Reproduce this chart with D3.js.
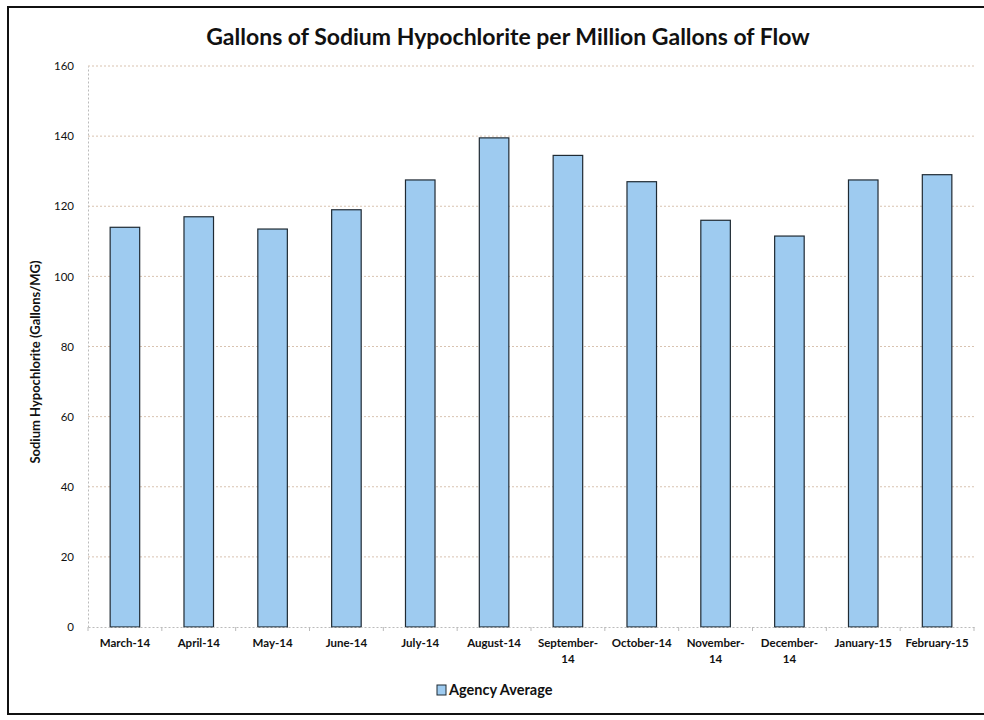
<!DOCTYPE html>
<html>
<head>
<meta charset="utf-8">
<script src="https://cdn.jsdelivr.net/npm/d3@7"></script>
<style>
  html, body { margin: 0; padding: 0; background: #fff; }
  svg { display: block; font-family: Lato, "Open Sans", sans-serif; }
</style>
</head>
<body>
<svg id="chart" width="984" height="720"></svg>
<script>
// Monthly sodium hypochlorite dosing, gallons per million gallons of flow
const months = ["March-14", "April-14", "May-14", "June-14", "July-14", "August-14",
  "September-14", "October-14", "November-14", "December-14", "January-15", "February-15"];
// category labels as laid out on the axis (line breaks after the hyphen)
const monthLabels = [["March-14"], ["April-14"], ["May-14"], ["June-14"], ["July-14"], ["August-14"],
  ["September-", "14"], ["October-14"], ["November-", "14"], ["December-", "14"], ["January-15"], ["February-15"]];
const agencyAverage = [114, 117, 113.5, 119, 127.5, 139.5, 134.5, 127, 116, 111.5, 127.5, 129];
const yTicks = [0, 20, 40, 60, 80, 100, 120, 140, 160];
const seriesName = "Agency Average";

const svg = d3.select("#chart");
const margin = { left: 88, right: 10, top: 66, bottom: 93 };
const W = 984, H = 720;
const barFill = "#9ecbf0", barStroke = "#1f2a33";

// frame around the chart
svg.append("rect").attr("x", 8).attr("y", 7).attr("width", 984).attr("height", 707)
  .attr("fill", "none").attr("stroke", "#111").attr("stroke-width", 2);

const x = d3.scaleBand().domain(months).range([margin.left, W - margin.right]).paddingInner(0.6).paddingOuter(0.3);
const y = d3.scaleLinear().domain([0, 160]).range([H - margin.bottom, margin.top]);

// horizontal gridlines
svg.append("g").selectAll("line").data(yTicks.filter(d => d > 0)).join("line")
  .attr("x1", margin.left).attr("x2", W - margin.right)
  .attr("y1", d => y(d)).attr("y2", d => y(d))
  .attr("stroke", "#d9c3b0").attr("stroke-dasharray", "2,2").attr("stroke-width", 1);

// y axis
const yAxis = svg.append("g").attr("transform", `translate(${margin.left},0)`)
  .call(d3.axisLeft(y).tickValues(yTicks).tickSize(0).tickPadding(14));
yAxis.select(".domain").attr("stroke", "#bbb").attr("stroke-dasharray", "2,2");
yAxis.selectAll("text").attr("font-size", 11.5).attr("fill", "#111").attr("font-family", "Lato, sans-serif");

// bars
svg.append("g").selectAll("rect").data(agencyAverage).join("rect")
  .attr("x", (d, i) => x(months[i]))
  .attr("width", x.bandwidth())
  .attr("y", d => y(d))
  .attr("height", d => y(0) - y(d))
  .attr("fill", barFill)
  .attr("stroke", barStroke).attr("stroke-width", 1.2);

// x axis
const xAxis = svg.append("g").attr("transform", `translate(0,${y(0)})`)
  .call(d3.axisBottom(x).tickSize(0).tickPadding(12));
xAxis.select(".domain").attr("stroke", "#bbb").attr("stroke-dasharray", "2,2");
xAxis.selectAll("text").attr("font-size", 11.5).attr("font-weight", "bold").attr("fill", "#111")
  .attr("font-family", "Lato, sans-serif")
  .each(function(d, i) {
    const t = d3.select(this);
    t.text(null);
    monthLabels[months.indexOf(d)].forEach((line, j) => {
      t.append("tspan").attr("x", 0).attr("dy", j === 0 ? "0.71em" : "1.35em").text(line);
    });
  });
// category tick marks between bands
svg.append("g").selectAll("line").data(d3.range(months.length + 1)).join("line")
  .attr("x1", i => margin.left + i * x.step()).attr("x2", i => margin.left + i * x.step())
  .attr("y1", y(0)).attr("y2", y(0) + 4).attr("stroke", "#bbb");

// title
svg.append("text").attr("x", 508).attr("y", 45).attr("text-anchor", "middle")
  .attr("font-size", 23).attr("font-weight", "bold").attr("fill", "#111")
  .text("Gallons of Sodium Hypochlorite per Million Gallons of Flow");

// y axis title
svg.append("text").attr("transform", `translate(40,362) rotate(-90)`)
  .attr("text-anchor", "middle").attr("font-size", 13).attr("font-weight", "bold").attr("fill", "#111")
  .text("Sodium Hypochlorite (Gallons/MG)");

// legend
const lg = svg.append("g").attr("transform", "translate(437,690)");
lg.append("rect").attr("x", 0).attr("y", -5).attr("width", 9).attr("height", 10)
  .attr("fill", barFill).attr("stroke", barStroke);
lg.append("text").attr("x", 12).attr("y", 0).attr("dy", "0.35em")
  .attr("font-size", 14.5).attr("font-weight", "bold").attr("fill", "#111").text(seriesName);
</script>
</body>
</html>
